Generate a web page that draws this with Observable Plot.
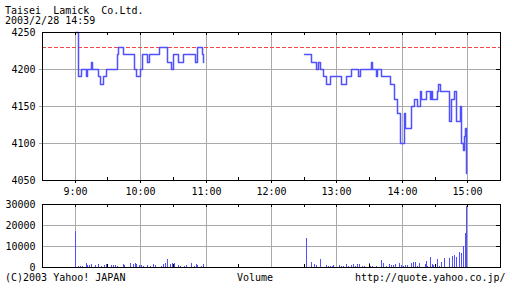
<!DOCTYPE html>
<html><head><meta charset="utf-8">
<script src="https://cdn.jsdelivr.net/npm/d3@7"></script>
<script src="https://cdn.jsdelivr.net/npm/@observablehq/plot@0.6"></script>
<style>
html,body{margin:0;padding:0;background:#fff;}
#wrap{position:relative;width:512px;height:288px;overflow:hidden;font-family:"DejaVu Sans Mono",monospace;font-size:10px;color:#000;}
.t{position:absolute;line-height:8px;white-space:pre;}
#price,#vol{position:absolute;left:0;}
#price{top:0;}
#vol{top:194px;}
</style></head><body>
<div id="wrap">
  <div class="t" style="left:5px;top:6.5px">Taisei  Lamick  Co.Ltd.</div>
  <div class="t" style="left:5px;top:16.5px">2003/2/28 14:59</div>
  <div id="price"></div>
  <div id="vol"></div>
  <div class="t" style="left:5px;top:273.5px">(C)2003 Yahoo! JAPAN</div>
  <div class="t" style="left:237px;top:273.5px">Volume</div>
  <div class="t" style="left:355px;top:273.5px">http://quote.yahoo.co.jp/</div>
</div>
<script>
// ---- data ----
const morningTimes = ["9:00","9:03","9:06","9:10","9:11","9:15","9:16","9:21","9:23","9:26","9:29","9:39","9:40","9:44","9:54","9:56","10:00","10:02","10:06","10:08","10:17","10:25","10:28","10:30","10:35","10:39","10:50","10:52","10:57","10:58"];
const morningPrices = [4250,4190,4200,4190,4200,4210,4200,4190,4180,4190,4200,4220,4230,4220,4200,4190,4200,4220,4210,4220,4230,4210,4200,4220,4210,4220,4210,4230,4220,4210];
const afternoonTimes = ["12:30","12:37","12:41","12:43","12:45","12:48","12:50","12:54","13:04","13:09","13:13","13:20","13:22","13:32","13:33","13:36","13:37","13:41","13:49","13:53","13:56","13:58","14:02","14:03","14:08","14:11","14:14","14:17","14:18","14:22","14:26","14:27","14:28","14:32","14:33","14:35","14:43","14:45","14:48","14:50","14:53","14:54","14:56","14:57","14:58","14:59"];
const afternoonPrices = [4220,4210,4200,4210,4200,4190,4180,4190,4180,4190,4200,4190,4200,4210,4200,4190,4200,4190,4180,4160,4140,4100,4140,4120,4150,4160,4150,4170,4160,4170,4160,4170,4160,4170,4180,4170,4130,4160,4170,4130,4150,4100,4090,4110,4120,4060];
const previousClose = 4230;
const volumeTimes = ["9:00","9:03","9:05","9:07","9:10","9:11","9:13","9:15","9:19","9:21","9:24","9:27","9:29","9:33","9:35","9:37","9:39","9:44","9:45","9:51","9:53","9:55","9:56","9:59","10:01","10:03","10:06","10:09","10:12","10:14","10:19","10:21","10:23","10:25","10:27","10:29","10:31","10:35","10:37","10:40","10:42","10:47","10:49","10:51","10:52","10:56","10:58",
  "12:32","12:37","12:39","12:41","12:45","12:50","12:52","12:54","12:56","12:57","13:02","13:04","13:06","13:09","13:11","13:13","13:15","13:17","13:19","13:21","13:23","13:25","13:30","13:31","13:33","13:36","13:41","13:43","13:45","13:48","13:50","13:52","13:54","13:57","13:59","14:01","14:03","14:05","14:08","14:10","14:12","14:14","14:16","14:21","14:22","14:23","14:26","14:28","14:29","14:32","14:34","14:36","14:39","14:43","14:46","14:48","14:50","14:52","14:54","14:56","14:58","14:59"];
const volumes = [17000,500,500,700,2000,1000,1000,1300,1000,1400,700,1000,1400,1000,800,800,700,1400,800,2000,1400,2000,1400,1000,1000,700,1100,700,1300,800,700,1400,2100,3800,1300,1700,2100,800,700,700,1000,1700,700,1600,1000,700,1300,
  13800,2400,1400,1100,3800,950,500,500,600,800,800,500,500,1300,500,950,1300,500,1300,1300,500,500,1750,500,500,500,3300,1900,500,1600,950,950,1300,1900,950,650,950,950,1900,2500,2500,500,1900,1300,2900,650,4800,1300,800,4000,650,2500,4300,4300,5200,5700,4800,7100,6700,10000,16200,29000];
const priceLabels = [4050,4100,4150,4200,4250];
const priceGrid = [4100,4150,4200];
const volumeLabels = [0,10000,20000,30000];
const volumeGrid = [10000,20000];
const hourLabels = ["9:00","10:00","11:00","12:00","13:00","14:00","15:00"];
const halfHourTimes = ["9:30","10:30","11:30","12:30","13:30","14:30"];

// ---- helpers ----
const toMin = s => { const [h, m] = s.split(":").map(Number); return (h - 9) * 60 + m; };
const fmt = m => `${9 + Math.floor(m / 60)}:${String(m % 60).padStart(2, "0")}`;
const plain = d => String(d);
const morning = morningTimes.map((t, i) => ({m: toMin(t), p: morningPrices[i]}));
const afternoon = afternoonTimes.map((t, i) => ({m: toMin(t), p: afternoonPrices[i]}));
const vol = volumeTimes.map((t, i) => ({m: toMin(t), v: volumes[i]}));
const hours = hourLabels.map(toMin);
const halves = halfHourTimes.map(toMin);
const allTicks = [...hours, ...halves];
const blue = "#5050ff";
const gray = "#aaaaaa";
const style = {fontFamily: "DejaVu Sans Mono", fontSize: "10px", background: "transparent", overflow: "visible", color: "black"};
const xDomain = [toMin("8:30"), toMin("15:30")];

const price = Plot.plot({
  width: 512, height: 200,
  marginLeft: 42, marginRight: 12, marginTop: 32, marginBottom: 20,
  style,
  x: {domain: xDomain, round: true, axis: null, label: null},
  y: {domain: [4050, 4250], round: true, axis: null, label: null},
  marks: [
    Plot.gridY(priceGrid, {stroke: gray, strokeOpacity: 1}),
    Plot.gridX(hours, {stroke: gray, strokeOpacity: 1}),
    Plot.axisY(priceGrid, {tickSize: 3, stroke: gray, tickFormat: () => "", label: null}),
    Plot.ruleY([previousClose], {stroke: "#f04848", strokeDasharray: "4,2"}),
    Plot.line(morning, {x: "m", y: "p", curve: "step-after", stroke: blue}),
    Plot.line(afternoon, {x: "m", y: "p", curve: "step-after", stroke: blue}),
    Plot.frame({stroke: "black"}),
    Plot.ruleX(allTicks, {stroke: "black", insetBottom: 145}),
    Plot.ruleX(halves, {stroke: "black", insetTop: 145}),
    Plot.ruleY(priceGrid, {stroke: "black", insetLeft: 454}),
    Plot.axisY(priceLabels, {tickSize: 0, tickPadding: 7, tickFormat: plain, label: null}),
    Plot.axisX(hours, {tickSize: 3, tickPadding: 4, stroke: "black", tickFormat: fmt, label: null})
  ]
});
document.getElementById("price").appendChild(price);

const volume = Plot.plot({
  width: 512, height: 80,
  marginLeft: 42, marginRight: 12, marginTop: 10, marginBottom: 7,
  style,
  x: {domain: xDomain, round: true, axis: null, label: null},
  y: {domain: [0, 30000], round: true, axis: null, label: null},
  marks: [
    Plot.gridY(volumeGrid, {stroke: gray, strokeOpacity: 1}),
    Plot.gridX(hours, {stroke: gray, strokeOpacity: 1}),
    Plot.ruleX(vol, {x: "m", y: "v", stroke: blue}),
    Plot.frame({stroke: "black"}),
    Plot.ruleX(allTicks, {stroke: "black", insetBottom: 60}),
    Plot.ruleX(halves, {stroke: "black", insetTop: 60}),
    Plot.ruleY(volumeGrid, {stroke: "black", insetLeft: 454}),
    Plot.axisY(volumeLabels, {tickSize: 0, tickPadding: 7, tickFormat: plain, label: null})
  ]
});
document.getElementById("vol").appendChild(volume);
</script>
</body></html>
